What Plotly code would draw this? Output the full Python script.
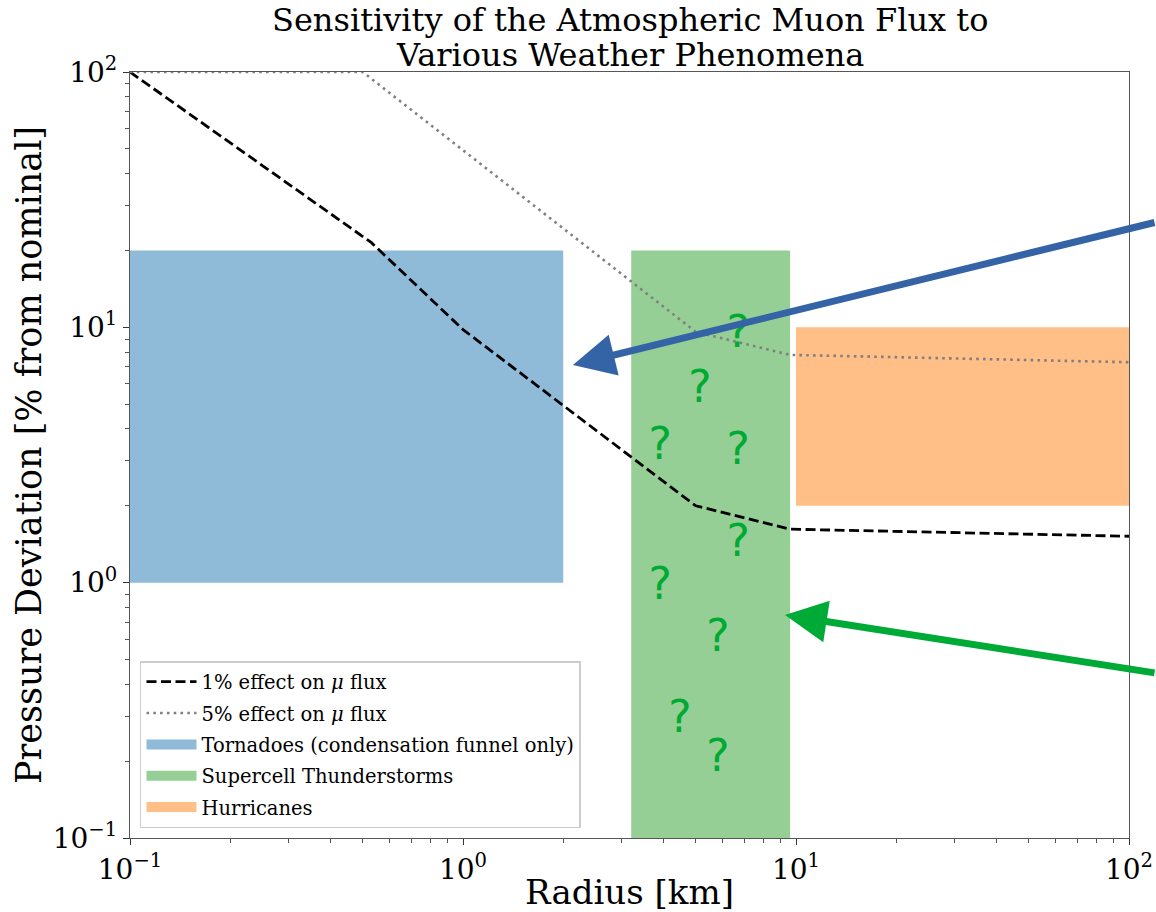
import plotly.graph_objects as go

# ---- data ----
one_pct_x = [0.1, 0.53, 1.0, 5.0, 9.6, 100.0]
one_pct_y = [100.0, 21.5, 9.8, 2.0, 1.62, 1.52]

five_pct_x = [0.1, 0.5, 5.0, 9.6, 100.0]
five_pct_y = [100.0, 100.0, 9.6, 7.8, 7.3]

tornado_x = [0.1, 2.0]
tornado_y = [1.0, 20.0]
supercell_x = [3.2, 9.6]
supercell_y = [0.1, 20.0]
hurricane_x = [10.0, 100.0]
hurricane_y = [2.0, 10.0]

q_x = [6.70, 5.15, 3.91, 6.70, 6.70, 3.91, 5.83, 4.48, 5.83]
q_y = [9.25, 5.63, 3.37, 3.22, 1.40, 0.95, 0.596, 0.287, 0.202]

tick_vals = [0.1, 1, 10, 100]
tick_text = ["10<sup>\u22121</sup>", "10<sup>0</sup>", "10<sup>1</sup>", "10<sup>2</sup>"]
minor_vals = [m * 10 ** e for e in (-1, 0, 1) for m in range(2, 10)]

title_lines = ["Sensitivity of the Atmospheric Muon Flux to", "Various Weather Phenomena"]
labels = [
    "1% effect on <i>\u03bc</i> flux",
    "5% effect on <i>\u03bc</i> flux",
    "Tornadoes (condensation funnel only)",
    "Supercell Thunderstorms",
    "Hurricanes",
]

C_TORNADO = "#8fbbd9"
C_SUPER = "#95cf95"
C_HURR = "#ffbf86"
C_Q = "#00aa33"
C_BLUE_ARROW = "#3464a6"
C_GREEN_ARROW = "#00aa36"

SERIF = "DejaVu Serif"

fig = go.Figure()


def rect(xs, ys, color):
    x0, x1 = xs
    y0, y1 = ys
    fig.add_trace(go.Scatter(
        x=[x0, x1, x1, x0, x0], y=[y0, y0, y1, y1, y0],
        mode="lines", fill="toself", fillcolor=color,
        line=dict(width=0, color=color), showlegend=False, hoverinfo="skip"))


rect(tornado_x, tornado_y, C_TORNADO)
rect(supercell_x, supercell_y, C_SUPER)
rect(hurricane_x, hurricane_y, C_HURR)

fig.add_trace(go.Scatter(
    x=one_pct_x, y=one_pct_y, mode="lines",
    line=dict(color="black", width=2.8, dash="10px,4.5px"),
    name=labels[0], legendgroup="a", legendrank=1))
fig.add_trace(go.Scatter(
    x=five_pct_x, y=five_pct_y, mode="lines",
    line=dict(color="#808080", width=2.6, dash="2.6px,4.2px"),
    name=labels[1], legendgroup="b", legendrank=2))

for i, (lab, col) in enumerate(zip(labels[2:], [C_TORNADO, C_SUPER, C_HURR])):
    fig.add_trace(go.Scatter(
        x=[None], y=[None], mode="lines",
        line=dict(color=col, width=10),
        name=lab, legendgroup="g%d" % i, legendrank=3 + i))

fig.add_trace(go.Scatter(
    x=q_x, y=q_y, mode="text", text=["?"] * len(q_x),
    textposition="middle center",
    textfont=dict(family="DejaVu Sans", size=44, color=C_Q),
    showlegend=False, hoverinfo="skip", cliponaxis=False))

# arrows
fig.add_annotation(x=0.330, y=0.852, xref="x", yref="y", text="",
                   showarrow=True, arrowhead=2, arrowsize=1.2, arrowwidth=7,
                   arrowcolor=C_BLUE_ARROW, ax=590, ay=-143, axref="pixel", ayref="pixel")
fig.add_annotation(x=0.967, y=-0.127, xref="x", yref="y", text="",
                   showarrow=True, arrowhead=2, arrowsize=1.2, arrowwidth=7,
                   arrowcolor=C_GREEN_ARROW, ax=378, ay=58, axref="pixel", ayref="pixel")

# title (two lines)
for line, yp in zip(title_lines, [1.0679, 1.0222]):
    fig.add_annotation(text=line, xref="paper", yref="paper", x=0.5, y=yp,
                       xanchor="center", yanchor="middle", showarrow=False,
                       font=dict(family=SERIF, size=32, color="black"))

axis_common = dict(
    type="log", showgrid=False, zeroline=False,
    showline=True, mirror=True, linecolor="#555", linewidth=1.3,
    ticks="outside", ticklen=6, tickwidth=1.2, tickcolor="#333",
    tickvals=tick_vals, ticktext=tick_text,
    tickfont=dict(family=SERIF, size=28, color="black"),
    minor=dict(tickvals=minor_vals, ticks="outside", ticklen=3.5,
               tickwidth=1, tickcolor="#555"),
)

fig.update_layout(
    width=1156, height=912,
    margin=dict(l=130, r=27, t=72, b=74, autoexpand=False),
    paper_bgcolor="white", plot_bgcolor="white",
    font=dict(family=SERIF, color="black"),
    xaxis=dict(axis_common, range=[-1, 2],
               title=dict(text="Radius [km]", font=dict(family=SERIF, size=34), standoff=0)),
    yaxis=dict(axis_common, range=[-1, 2],
               title=dict(text="Pressure Deviation [% from nominal]",
                          font=dict(family=SERIF, size=35), standoff=0)),
    legend=dict(x=0.01, y=0.013, xanchor="left", yanchor="bottom",
                bgcolor="rgba(255,255,255,0.8)", bordercolor="#cccccc", borderwidth=1.5,
                font=dict(family=SERIF, size=19.5, color="black"),
                tracegroupgap=3, traceorder="grouped", itemwidth=50),
    showlegend=True,
)

fig.write_html("out.html", config={"displayModeBar": False},
               post_script="document.body.style.margin='0px';")
